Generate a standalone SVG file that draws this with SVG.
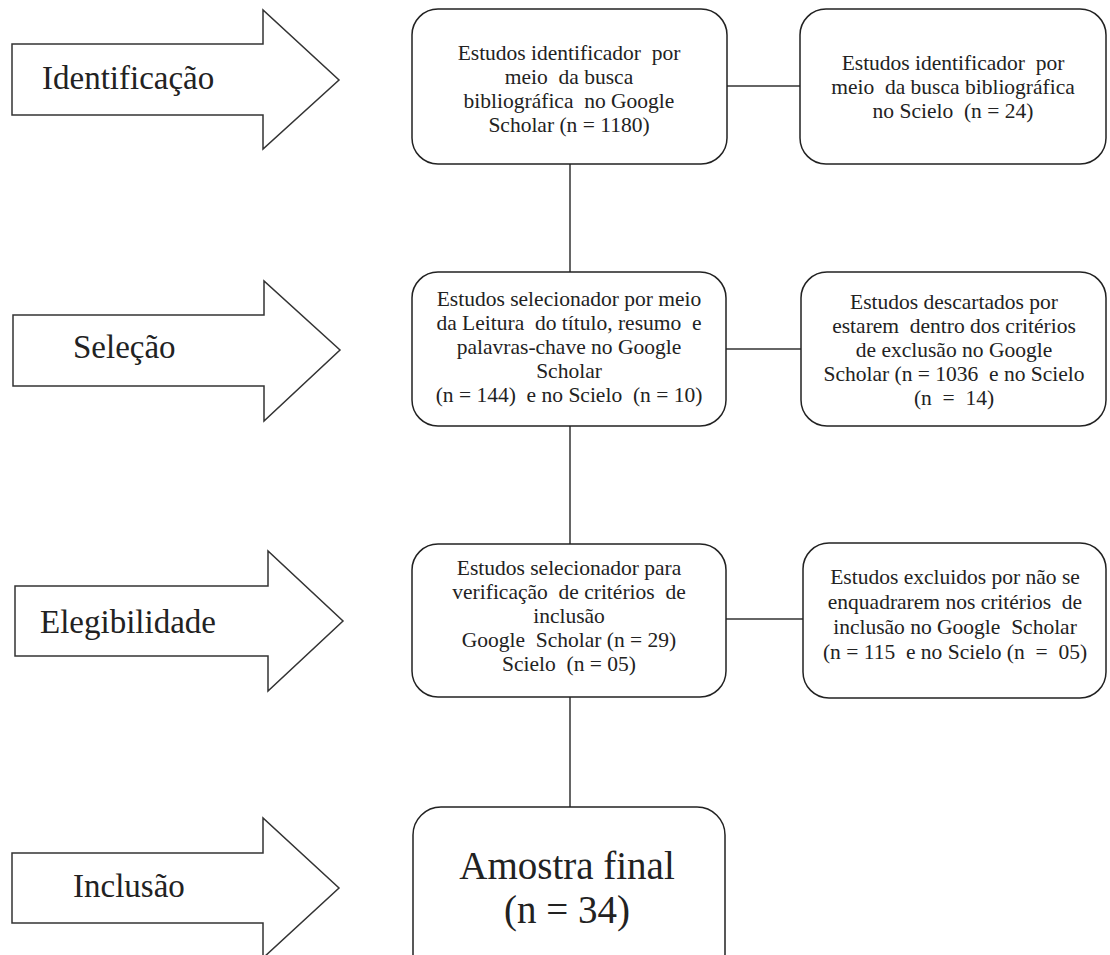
<svg xmlns="http://www.w3.org/2000/svg" width="1110" height="955" viewBox="0 0 1110 955">
<style>
.bg{fill:#ffffff}
.arrow{fill:#ffffff;stroke:#333333;stroke-width:1.5;stroke-linejoin:miter}
.box{fill:#ffffff;stroke:#222222;stroke-width:1.5}
.conn{stroke:#333333;stroke-width:1.5;fill:none}
.stage{font-family:"Liberation Serif","Times New Roman",serif;font-size:33px;fill:#222222}
.t{font-family:"Liberation Serif","Times New Roman",serif;font-size:21.5px;fill:#222222;text-anchor:middle;white-space:pre}
.big{font-family:"Liberation Serif","Times New Roman",serif;font-size:39px;fill:#222222;text-anchor:middle}
</style>
<rect class="bg" x="0" y="0" width="1110" height="955"/>
<g id="connectors">
<line class="conn" x1="570" y1="164" x2="570" y2="272"/>
<line class="conn" x1="570" y1="426" x2="570" y2="544"/>
<line class="conn" x1="570" y1="697" x2="570" y2="807"/>
<line class="conn" x1="727" y1="86" x2="800" y2="86"/>
<line class="conn" x1="726" y1="349" x2="801" y2="349"/>
<line class="conn" x1="726" y1="619" x2="803" y2="619"/>
</g>
<g id="stage-identificacao">
<polygon class="arrow" points="12,44 263,44 263,10 339,80 263,149 263,115 12,115"/>
<text class="stage" x="42" y="89">Identificação</text>
</g>
<g id="stage-selecao">
<polygon class="arrow" points="13,315 264,315 264,281 340,350 264,421 264,386 13,386"/>
<text class="stage" x="73" y="358">Seleção</text>
</g>
<g id="stage-elegibilidade">
<polygon class="arrow" points="15,586 268,586 268,551 343,621 268,691 268,656 15,656"/>
<text class="stage" x="40" y="633">Elegibilidade</text>
</g>
<g id="stage-inclusao">
<polygon class="arrow" points="12,853 263,853 263,818 339,888 263,958 263,923 12,923"/>
<text class="stage" x="73" y="897">Inclusão</text>
</g>
<g id="box-google-identificados">
<rect class="box" x="412" y="9" width="315" height="155" rx="26" ry="26"/>
<text class="t" x="569" y="60">Estudos identificador  por</text>
<text class="t" x="569" y="84">meio  da busca</text>
<text class="t" x="569" y="108">bibliográfica  no Google</text>
<text class="t" x="569" y="132">Scholar (n = 1180)</text>
</g>
<g id="box-scielo-identificados">
<rect class="box" x="800" y="9" width="306" height="155" rx="26" ry="26"/>
<text class="t" x="953" y="70">Estudos identificador  por</text>
<text class="t" x="953" y="94">meio  da busca bibliográfica</text>
<text class="t" x="953" y="118">no Scielo  (n = 24)</text>
</g>
<g id="box-selecionados">
<rect class="box" x="412" y="272" width="314" height="154" rx="26" ry="26"/>
<text class="t" x="569" y="306">Estudos selecionador por meio</text>
<text class="t" x="569" y="330">da Leitura  do título, resumo  e</text>
<text class="t" x="569" y="354">palavras-chave no Google</text>
<text class="t" x="569" y="378">Scholar</text>
<text class="t" x="569" y="402">(n = 144)  e no Scielo  (n = 10)</text>
</g>
<g id="box-descartados">
<rect class="box" x="801" y="272" width="305" height="154" rx="26" ry="26"/>
<text class="t" x="954" y="309">Estudos descartados por</text>
<text class="t" x="954" y="333">estarem  dentro dos critérios</text>
<text class="t" x="954" y="357">de exclusão no Google</text>
<text class="t" x="954" y="381">Scholar (n = 1036  e no Scielo</text>
<text class="t" x="954" y="405">(n  =  14)</text>
</g>
<g id="box-elegiveis">
<rect class="box" x="412" y="544" width="314" height="153" rx="26" ry="26"/>
<text class="t" x="569" y="575">Estudos selecionador para</text>
<text class="t" x="569" y="599">verificação  de critérios  de</text>
<text class="t" x="569" y="623">inclusão</text>
<text class="t" x="569" y="647">Google  Scholar (n = 29)</text>
<text class="t" x="569" y="671">Scielo  (n = 05)</text>
</g>
<g id="box-excluidos">
<rect class="box" x="803" y="543" width="303" height="155" rx="26" ry="26"/>
<text class="t" x="955" y="584">Estudos excluidos por não se</text>
<text class="t" x="955" y="609">enquadrarem nos critérios  de</text>
<text class="t" x="955" y="634">inclusão no Google  Scholar</text>
<text class="t" x="955" y="659">(n = 115  e no Scielo (n  =  05)</text>
</g>
<g id="box-amostra-final">
<rect class="box" x="413" y="807" width="312" height="175" rx="28" ry="28"/>
<text class="big" x="567" y="879">Amostra final</text>
<text class="big" x="567" y="923">(n = 34)</text>
</g>
</svg>
